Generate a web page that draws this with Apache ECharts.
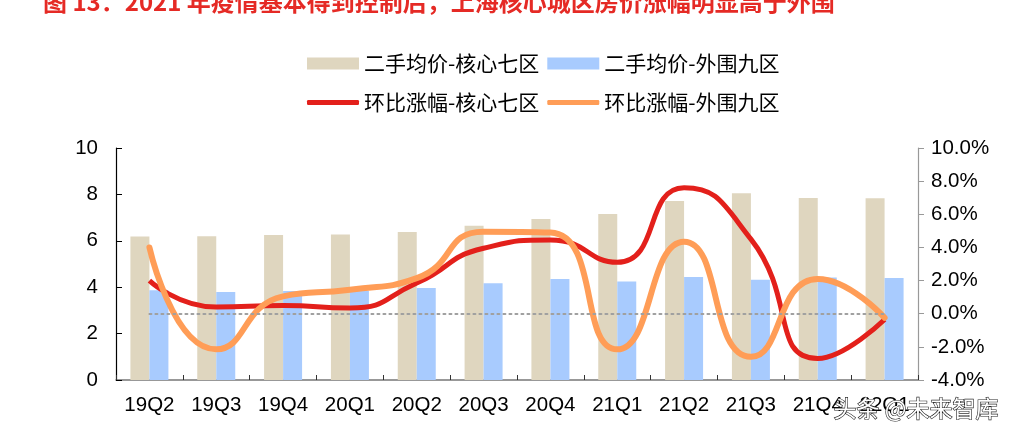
<!DOCTYPE html>
<html>
<head>
<meta charset="utf-8">
<script src="https://cdn.jsdelivr.net/npm/echarts@6/dist/echarts.min.js"></script>
<style>html,body{margin:0;padding:0;background:#fff;}#c{width:1036px;height:440px;}</style>
</head>
<body>
<div id="c"></div>
<script>
var categories = ['19Q2','19Q3','19Q4','20Q1','20Q2','20Q3','20Q4','21Q1','21Q2','21Q3','21Q4','22Q1'];
var priceCore = [6.18,6.20,6.25,6.27,6.38,6.65,6.94,7.16,7.72,8.05,7.84,7.83];
var priceOuter = [3.87,3.79,3.84,3.85,3.97,4.17,4.35,4.25,4.44,4.32,4.42,4.40];
var momCore = [2.0,0.4,0.5,0.35,1.85,3.95,4.45,3.1,7.6,4.5,-2.7,-0.35];
var momOuter = [4.0,-2.15,1.05,1.45,2.15,4.95,4.9,-2.15,4.35,-2.6,2.1,-0.25];
var leftTicks = {min:0, max:10, interval:2};
var rightTicks = {min:-4, max:10, interval:2};
var names = ['二手均价-核心七区','二手均价-外围九区','环比涨幅-核心七区','环比涨幅-外围九区'];

var chart = echarts.init(document.getElementById('c'), null, {renderer:'canvas'});
var cjk = '"Noto Sans CJK SC", "Liberation Sans", sans-serif';
var lat = '"Liberation Sans", Arial, sans-serif';
chart.setOption({
  animation:false,
  backgroundColor:'#fff',
  title:{
    text:'图 13：2021 年疫情基本得到控制后，上海核心城区房价涨幅明显高于外围',
    left:38, top:-15,
    textStyle:{color:'#E52A25', fontSize:24, fontWeight:'bold', fontFamily:cjk}
  },
  legend:[{
    data:[names[0],names[1]],
    left:302, top:48,
    itemWidth:52, itemHeight:12, itemGap:8,
    icon:'rect',
    textStyle:{fontSize:21, color:'#000', fontFamily:cjk}
  },{
    data:[names[2],names[3]],
    left:302, top:87,
    itemWidth:52, itemHeight:5, itemGap:8,
    icon:'roundRect',
    textStyle:{fontSize:21, color:'#000', fontFamily:cjk}
  }],
  grid:{left:116, right:118, top:148, bottom:60, containLabel:false},
  xAxis:{
    type:'category', data:categories,
    axisLine:{lineStyle:{color:'#777', width:1.5}},
    axisTick:{show:true, inside:true, length:5, lineStyle:{color:'#333'}},
    axisLabel:{color:'#000', fontSize:20.5, fontFamily:lat, margin:15, interval:0}
  },
  yAxis:[{
    type:'value', min:leftTicks.min, max:leftTicks.max, interval:leftTicks.interval,
    axisLine:{show:true, lineStyle:{color:'#000', width:1.2}},
    axisTick:{show:true, inside:true, length:6, lineStyle:{color:'#000'}},
    axisLabel:{color:'#000', fontSize:20.5, fontFamily:lat, margin:18},
    splitLine:{show:false}
  },{
    type:'value', min:rightTicks.min, max:rightTicks.max, interval:rightTicks.interval,
    position:'right',
    axisLine:{show:true, lineStyle:{color:'#999', width:1.2}},
    axisTick:{show:true, inside:false, length:6, lineStyle:{color:'#999'}},
    axisLabel:{color:'#000', fontSize:20.5, fontFamily:lat, margin:13,
      formatter:function(v){return v.toFixed(1)+'%';}},
    splitLine:{show:false}
  }],
  series:[{
    name:names[0], type:'bar', data:priceCore, yAxisIndex:0,
    barWidth:19, barGap:'0%',
    itemStyle:{color:'#DFD6BF'}
  },{
    name:names[1], type:'bar', data:priceOuter, yAxisIndex:0,
    barWidth:19, barGap:'0%',
    itemStyle:{color:'#A8CBFE'}
  },{
    name:names[2], type:'line', data:momCore, yAxisIndex:1,
    smooth:0.55, showSymbol:false, symbol:'none',
    lineStyle:{color:'#E3201B', width:5},
    itemStyle:{color:'#E3201B'},
    markLine:{
      silent:true, symbol:'none', label:{show:false},
      lineStyle:{color:'#A0A0A0', type:[2,4], width:2, cap:'round'},
      data:[[{coord:[0,0]},{coord:[11,0]}]]
    }
  },{
    name:names[3], type:'line', data:momOuter, yAxisIndex:1,
    smooth:0.55, showSymbol:false, symbol:'none',
    lineStyle:{color:'#FF9D57', width:6, cap:'round'},
    itemStyle:{color:'#FF9D57'}
  }],
  graphic:[{
    type:'text', left:833, top:396, z:100,
    style:{text:'头条 @未来智库', fontSize:23, fontFamily:cjk, fill:'#fff', stroke:'#222', lineWidth:1.2}
  }]
});
</script>
</body>
</html>
